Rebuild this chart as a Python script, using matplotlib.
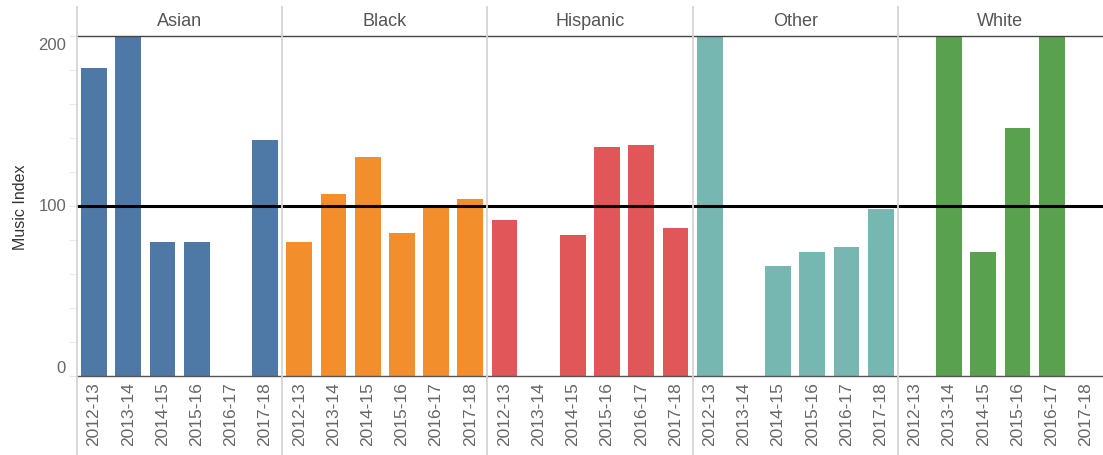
import numpy as np
import matplotlib.pyplot as plt
from matplotlib.lines import Line2D

plt.rcParams['font.family'] = ['Liberation Sans', 'DejaVu Sans']

groups = ['Asian', 'Black', 'Hispanic', 'Other', 'White']
years = ['2012-13', '2013-14', '2014-15', '2015-16', '2016-17', '2017-18']
colors = ['#4e79a7', '#f28e2b', '#e15759', '#76b7b2', '#59a14f']

# nan = no data; values above 200 are clipped at the top of the chart
asian = [181, 230, 79, 79, np.nan, 139]
black = [79, 107, 129, 84, 100, 104]
hispanic = [92, np.nan, 83, 135, 136, 87]
other = [230, np.nan, 65, 73, 76, 98]
white = [np.nan, 230, 73, 146, 230, np.nan]
values = [asian, black, hispanic, other, white]

W, H = 1103, 456
fig = plt.figure(figsize=(W / 100, H / 100), dpi=100)

left, right_edge = 77, 1103
top, bottom = 37, 377
pw = (right_edge - left) / 5
grey = '#666666'

for i, g in enumerate(groups):
    ax = fig.add_axes([(left + i * pw) / W, (H - bottom) / H, pw / W, (bottom - top) / H])
    x = np.arange(len(years))
    ax.bar(x, np.nan_to_num(values[i]), width=0.75, color=colors[i], zorder=2)
    ax.axhline(100, color='black', lw=2.2, zorder=3)
    ax.set_xlim(-0.5, 5.5)
    ax.set_ylim(0, 200)
    for s in ['left', 'right']:
        ax.spines[s].set_visible(False)
    ax.spines['top'].set_color('#444444')
    ax.spines['bottom'].set_color('#555555')
    ax.spines['top'].set_linewidth(1.0)
    ax.spines['bottom'].set_linewidth(1.0)
    ax.set_xticks(x)
    ax.set_xticklabels(years, rotation=90, color=grey, fontsize=12.5)
    ax.tick_params(axis='x', length=0, pad=4)
    if i == 0:
        ax.set_yticks([0, 100, 200])
        ax.set_yticks(np.arange(20, 200, 20), minor=True)
        ax.set_yticklabels([])
        ax.tick_params(axis='y', which='both', length=6, color='#e6e6e6')
        for v, off in [(0, 8), (100, 0), (200, -8)]:
            ax.annotate(str(v), xy=(0, v), xycoords=('axes fraction', 'data'),
                        xytext=(-11, off), textcoords='offset pixels',
                        ha='right', va='center', color=grey, fontsize=12)
        ax.set_ylabel('Music Index', color='#333333', fontsize=11.5, labelpad=26)
    else:
        ax.set_yticks([])
    fig.text((left + (i + 0.5) * pw) / W, (H - 22) / H, g, ha='center', va='center',
             color='#555555', fontsize=13)

for i in range(5):
    xp = (left + i * pw) / W
    fig.add_artist(Line2D([xp, xp], [0, (H - 8) / H], color='#d4d4d4', lw=1.3,
                          transform=fig.transFigure, zorder=5))

fig.savefig('out.png', dpi=100)
